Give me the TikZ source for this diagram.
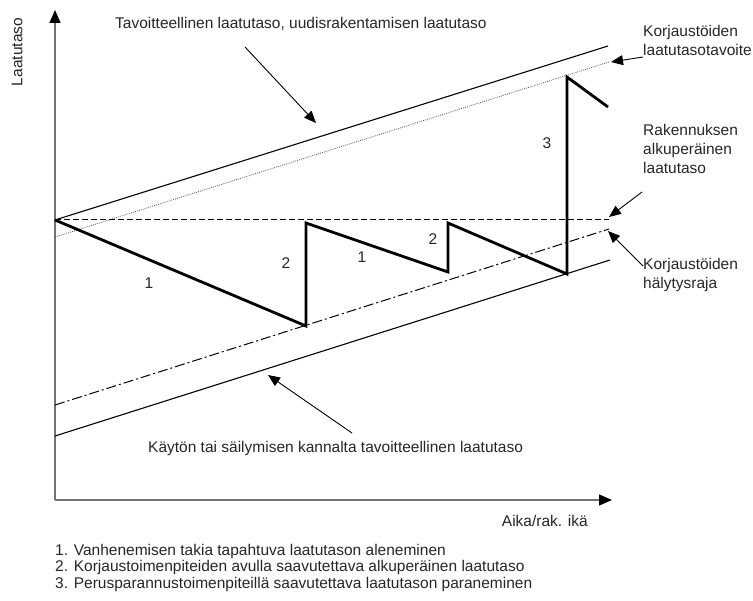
\documentclass[tikz,border=0pt]{standalone}
\usepackage{fontspec}
\setmainfont{Liberation Sans}
\usetikzlibrary{arrows.meta}
\begin{document}
\begin{tikzpicture}[x=1pt,y=-1pt,
  lbl/.style={font=\fontsize{15.5}{19}\selectfont, text=black!85, inner sep=0pt},
  multi/.style={lbl, align=left, anchor=north west},
  num/.style={lbl, anchor=center},
  axisline/.style={draw=black!55, line width=1.4pt, -{Triangle[length=13pt,width=11pt,color=black]}},
  solidlvl/.style={draw=black, line width=1.1pt},
  dottedlvl/.style={draw=black!70, line width=0.8pt, dash pattern=on 0.8pt off 1.2pt},
  dashedlvl/.style={draw=black, line width=1pt, dash pattern=on 6pt off 3pt},
  dashdotlvl/.style={draw=black, line width=1pt, dash pattern=on 10pt off 3pt on 2pt off 3pt},
  saw/.style={draw=black, line width=2.8pt, line join=miter},
  pointer/.style={draw=black, line width=0.9pt, -{Triangle[length=12pt,width=10pt]}}
]
\useasboundingbox (0,0) rectangle (753,601);

% axes
\coordinate (origin) at (55,500);
\coordinate (ytop) at (55,10);
\coordinate (xend) at (612,500);
\draw[axisline] (origin) -- (ytop);
\draw[axisline] (origin) -- (xend);

% level lines
\coordinate (start) at (55,220);
\draw[solidlvl] (start) -- (608,46);
\draw[dottedlvl] (55,237) -- (609,62);
\draw[dashedlvl] (start) -- (609,220);
\draw[dashdotlvl] (55,405) -- (609,229);
\draw[solidlvl] (55,436) -- (610,260);

% quality curve
\coordinate (p1) at (306,326);
\coordinate (p2) at (306,223);
\coordinate (p3) at (448,272);
\coordinate (p4) at (448,223);
\coordinate (p5) at (567,274);
\coordinate (p6) at (567,77);
\coordinate (p7) at (608,107);
\draw[saw] (start) -- (p1) -- (p2) -- (p3) -- (p4) -- (p5) -- (p6) -- (p7);

% segment numbers
\node[num] (n1a) at (149,283) {1};
\node[num] (n2a) at (286,263) {2};
\node[num] (n1b) at (362,257) {1};
\node[num] (n2b) at (433,239) {2};
\node[num] (n3) at (547,143) {3};

% axis titles
\node[lbl, rotate=90] (ylab) at (17,52) {Laatutaso};
\node[lbl, anchor=base east] (xlab) at (588,527) {Aika/rak. ikä};

% annotations
\node[lbl, anchor=base west] (top) at (115,28.3) {Tavoitteellinen laatutaso, uudisrakentamisen laatutaso};
\coordinate (topTail) at (245,47);
\coordinate (topTip) at (316,123);
\draw[pointer] (topTail) -- (topTip);

\node[multi] (target) at (643,25) {Korjaustöiden\\laatutasotavoite};
\coordinate (targetTail) at (643,57);
\coordinate (targetTip) at (611,62);
\draw[pointer] (targetTail) -- (targetTip);

\node[multi] (orig) at (643,124) {Rakennuksen\\alkuperäinen\\laatutaso};
\coordinate (origTail) at (642,192);
\coordinate (origTip) at (609,217);
\draw[pointer] (origTail) -- (origTip);

\node[multi] (alarm) at (643,258) {Korjaustöiden\\hälytysraja};
\coordinate (alarmTail) at (643,266);
\coordinate (alarmTip) at (608,231);
\draw[pointer] (alarmTail) -- (alarmTip);

\node[lbl, anchor=base west] (use) at (148,453) {Käytön tai säilymisen kannalta tavoitteellinen laatutaso};
\coordinate (useTail) at (352,433);
\coordinate (useTip) at (268,375);
\draw[pointer] (useTail) -- (useTip);

% legend
\node[lbl, anchor=base west] (leg1) at (55,555) {1. Vanhenemisen takia tapahtuva laatutason aleneminen};
\node[lbl, anchor=base west] (leg2) at (55,572) {2. Korjaustoimenpiteiden avulla saavutettava alkuperäinen laatutaso};
\node[lbl, anchor=base west] (leg3) at (55,589) {3. Perusparannustoimenpiteillä saavutettava laatutason paraneminen};
\end{tikzpicture}
\end{document}
